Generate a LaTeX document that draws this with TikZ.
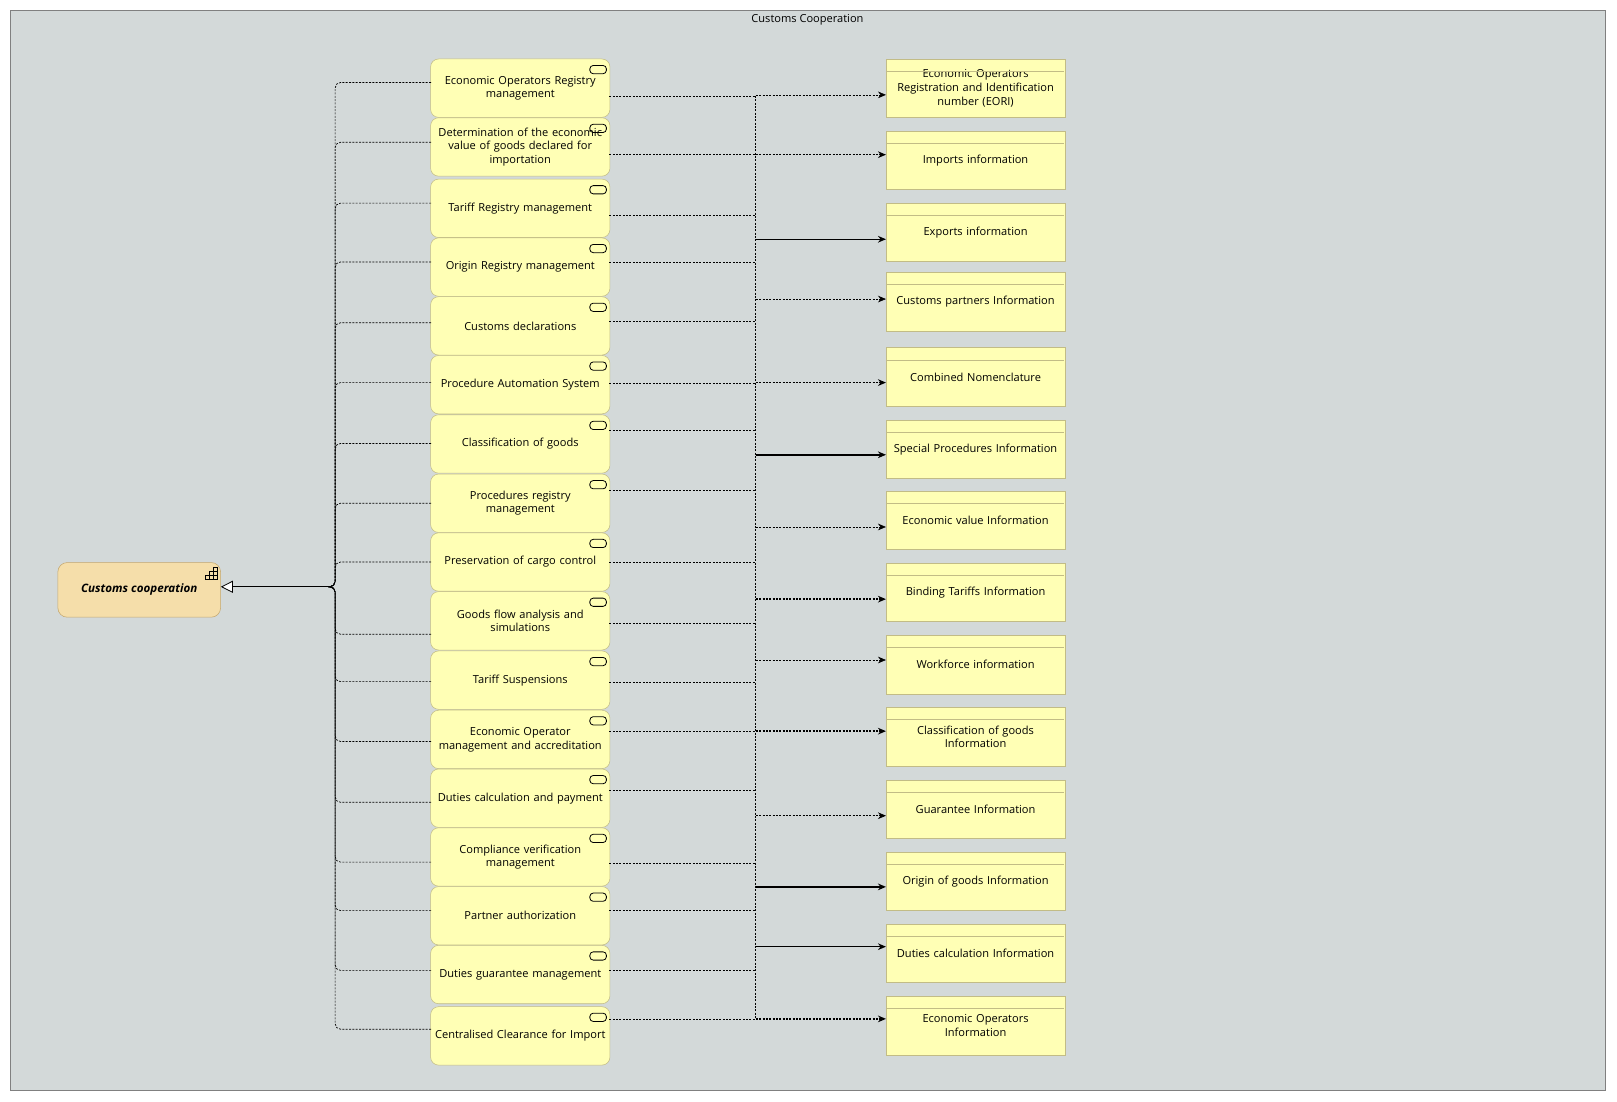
\documentclass[tikz,border=0pt]{standalone}
\usepackage{fontspec}
\setmainfont{Open Sans}
\usetikzlibrary{arrows.meta}
\definecolor{bg}{HTML}{D3D9D9}
\definecolor{appy}{HTML}{FFFFB5}
\definecolor{appb}{HTML}{C2BC86}
\definecolor{funo}{HTML}{F5DEAA}
\definecolor{funb}{HTML}{C4A76E}
\begin{document}
\begin{tikzpicture}[x=0.7734pt,y=-0.7734pt,
 comp/.style={draw=appb,fill=appy,rounded corners=6pt,minimum width=134.5pt,minimum height=43.8pt,align=center,font=\fontsize{8.3}{10.3}\selectfont,text width=131pt,inner sep=1pt},
 dobj/.style={draw=appb,fill=appy,minimum width=134pt,minimum height=43.8pt,align=center,font=\fontsize{8.3}{10.3}\selectfont,text width=131pt,inner sep=1pt},
 dl/.style={dash pattern=on 1.5pt off 1pt,line width=0.5pt},
 dd/.style={dl,line width=1pt},
 sol/.style={line width=1.1pt},
 arr/.style={-{Stealth[length=6pt,width=5pt]}}]
\useasboundingbox (0,0) rectangle (1568,1068);
\fill[white] (0,0) rectangle (1568,1068);
\draw[fill=bg,draw=gray] (10,10) rectangle (1557,1057);
\node[font=\fontsize{8.3}{10}\selectfont] (title) at (783,19) {Customs Cooperation};
% function
\node[draw=funb,fill=funo,rounded corners=7pt,minimum width=122pt,minimum height=41pt,font=\fontsize{8.7}{10}\selectfont\bfseries\itshape] (cc) at (135,572) {Customs cooperation};
\foreach \i/\j in {0/0,1/0,2/0,1/1,2/1,2/2}{\draw[line width=0.5pt] (199+\i*4,562-\j*4) rectangle ++(4,-4);}
% components
\foreach \n/\y/\t in {
 1/85.5/{Economic Operators Registry\\management},
 2/142.5/{Determination of the economic\\value of goods declared for\\importation},
 3/202/{Tariff Registry management},
 4/259/{Origin Registry management},
 5/316/{Customs declarations},
 6/373/{Procedure Automation System},
 7/430.5/{Classification of goods},
 8/488/{Procedures registry\\management},
 9/545/{Preservation of cargo control},
 10/602/{Goods flow analysis and\\simulations},
 11/659.5/{Tariff Suspensions},
 12/717/{Economic Operator\\management and accreditation},
 13/774/{Duties calculation and payment},
 14/831/{Compliance verification\\management},
 15/888/{Partner authorization},
 16/945/{Duties guarantee management},
 17/1004.5/{Centralised Clearance for Import}}{
 \node[comp] (c\n) at (504.5,\y) {\t};
 \draw[line width=0.6pt,rounded corners=2.5pt] (572,\y-22) rectangle (588,\y-14);
}
% data objects
\foreach \n/\y/\t in {
 1/85.5/{Economic Operators\\Registration and Identification\\number (EORI)},
 2/155.5/{Imports information},
 3/225.5/{Exports information},
 4/292.5/{Customs partners Information},
 5/365.5/{Combined Nomenclature},
 6/435.5/{Special Procedures Information},
 7/504.5/{Economic value Information},
 8/574.5/{Binding Tariffs Information},
 9/644.5/{Workforce information},
 10/714.5/{Classification of goods\\Information},
 11/784.5/{Guarantee Information},
 12/854.5/{Origin of goods Information},
 13/924.5/{Duties calculation Information},
 14/994.5/{Economic Operators\\Information}}{
 \node[dobj] (d\n) at (946,\y) {\t};
 \draw[draw=appb] (d\n.north west) ++(0,12) -- ++(173,0);
}
% left bus
\coordinate (lj) at (320,569);
\draw[line width=0.6pt,-{Triangle[open,length=9pt,width=9pt,fill=white]}] (lj) -- (lj-|cc.east);
\foreach \n/\y in {1/80,2/138,3/197,4/254,5/313,6/371,7/430,8/488,9/545,10/615,11/661,12/719,13/778,14/836,15/883,16/941,17/998}{
 \coordinate (lp\n) at (418,\y);
 \draw[dl,rounded corners=4pt] (lp\n) -- (325,\y) -- (325,569) -- (lj);
}
% right bus
\foreach \n/\y in {1/93,2/150,3/209,4/254,5/312,6/372,7/417,8/475,9/545,10/604,11/662,12/709,13/766,14/837,15/883,16/941,17/988}{
 \coordinate (rp\n) at (591,\y);
 \draw[dl] (rp\n) -- (733,\y);
}
\draw[dl,line width=0.8pt] (733,93) -- (733,988);
\foreach \n/\y/\s in {1/92/dl,2/150/dd,3/232/sol,4/290/dl,5/371/dd,6/441/sol,7/511/dl,8/581/dd,9/640/dl,10/709/dd,11/791/dl,12/860/sol,13/918/sol,14/988/dd}{
 \coordinate (bp\n) at (733,\y);
 \draw[\s,arr] (bp\n) -- (d\n.west|-bp\n);
}
\end{tikzpicture}
\end{document}
